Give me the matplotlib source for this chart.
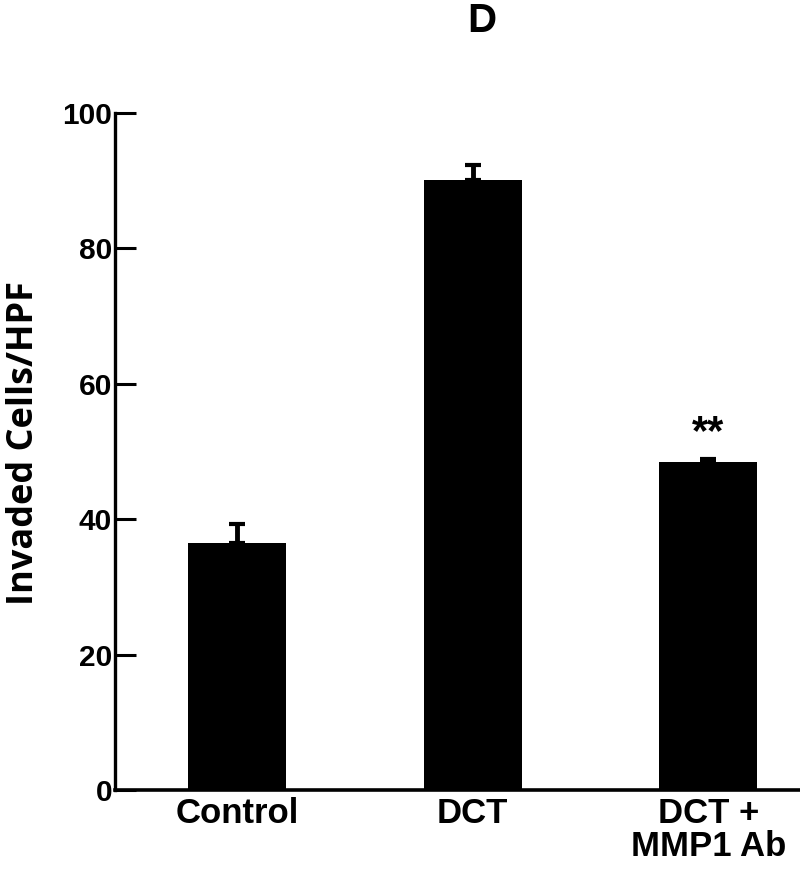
import matplotlib
matplotlib.use("Agg")
import matplotlib.pyplot as plt

# values
groups = ["Control", "DCT", "DCT +\nMMP1 Ab"]
cells = [36.5, 90.1, 48.4]
sem = [2.8, 2.2, 0.45]
stars = ["", "", "**"]
yticks = [0, 20, 40, 60, 80, 100]

fig = plt.figure(figsize=(8, 8.69), dpi=100)
ax = fig.add_axes([0.14375, 0.0909, 0.85625, 0.7791])

x = range(len(groups))
ax.bar(x, cells, width=0.416, color="black", zorder=2)
ax.errorbar(x, cells, yerr=[[0] * len(sem), sem], fmt="none", ecolor="black",
            elinewidth=3.5, capsize=5.5, capthick=3, zorder=1)

for i, s in enumerate(stars):
    if s:
        ax.text(i, cells[i] + sem[i] + 3.8, s, ha="center", va="center",
                fontsize=30, fontweight="bold", family="Liberation Sans")

ax.set_xlim(-0.518, 2.39)
ax.set_ylim(0, 100)
ax.set_yticks(yticks)
ax.set_xticks(list(x))
ax.set_xticklabels(groups, fontsize=25, fontweight="bold", family="Liberation Sans",
                   linespacing=1.0)

for lab in ax.get_yticklabels():
    lab.set_fontsize(21.5)
    lab.set_fontweight("bold")
    lab.set_family("Liberation Sans")

ax.tick_params(axis="y", direction="in", length=15, width=2.2, pad=2)
ax.tick_params(axis="x", length=0, pad=5)

ax.spines["top"].set_visible(False)
ax.spines["right"].set_visible(False)
ax.spines["left"].set_linewidth(2.4)
ax.spines["bottom"].set_linewidth(2.6)

fig.text(24 / 800, 1 - 443 / 869, "Invaded Cells/HPF", rotation=90, ha="center",
         va="center", fontsize=26, fontweight="bold", family="Open Sans")
fig.text(482 / 800, 1 - 21 / 869, "D", ha="center", va="center",
         fontsize=29, fontweight="bold", family="Liberation Sans")

fig.savefig("out.png", dpi=100)
